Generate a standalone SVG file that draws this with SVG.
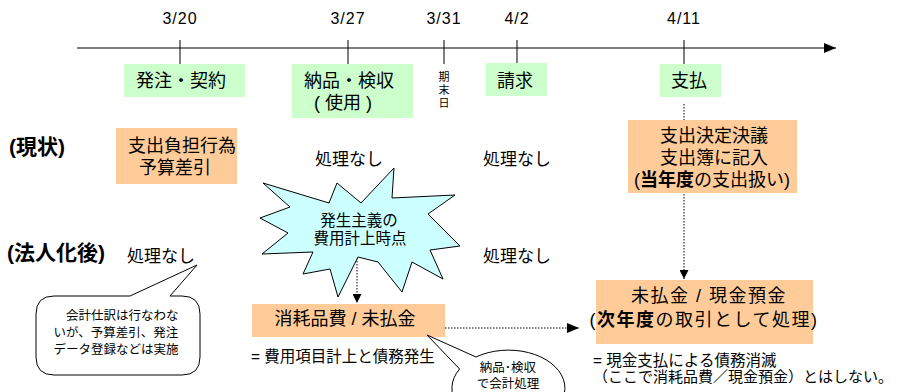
<svg xmlns="http://www.w3.org/2000/svg" width="901" height="392" viewBox="0 0 901 392">
<defs>
<style>
text{font-family:"Liberation Sans","Noto Sans CJK JP",sans-serif;fill:#000}
.date{font-size:16px;text-anchor:middle;letter-spacing:1px}
.lbl{font-size:18px;text-anchor:middle}
.nn{font-size:17px;text-anchor:middle}
.hdr{font-size:21px;font-weight:bold}
.sm{font-size:12.5px}
.vt{font-size:11px;text-anchor:middle}
.note{font-size:15.5px}
.green{fill:#ccffcc}
.orange{fill:#ffcc99}
.ln{stroke:#000;stroke-width:1;fill:none}
.dot{stroke:#000;stroke-width:1;fill:none;stroke-dasharray:1.5 1.5}
.shape{stroke:#000;stroke-width:1}
</style>
<marker id="ah" viewBox="0 0 10 10" refX="10" refY="5" markerWidth="10" markerHeight="9" markerUnits="userSpaceOnUse" orient="auto">
<path d="M0,0 L10,5 L0,10 Z" fill="#000"/>
</marker>
<marker id="ahL" viewBox="0 0 12 10" refX="12" refY="5" markerWidth="12" markerHeight="10" markerUnits="userSpaceOnUse" orient="auto">
<path d="M0,0 L12,5 L0,10 Z" fill="#000"/>
</marker>
</defs>
<rect width="901" height="392" fill="#fff"/>

<g id="timeline">
<line class="ln" x1="77" y1="48" x2="836" y2="48" marker-end="url(#ahL)"/>
<line class="ln" x1="180" y1="40" x2="180" y2="64"/>
<line class="ln" x1="348" y1="40" x2="348" y2="64"/>
<line class="ln" x1="444" y1="40" x2="444" y2="64"/>
<line class="ln" x1="517" y1="40" x2="517" y2="64"/>
<line class="ln" x1="684" y1="40" x2="684" y2="64"/>
<text class="date" x="180" y="24">3/20</text>
<text class="date" x="348" y="24">3/27</text>
<text class="date" x="444" y="24">3/31</text>
<text class="date" x="517" y="24">4/2</text>
<text class="date" x="684" y="24">4/11</text>
</g>

<g id="connectors">
<line class="dot" x1="684" y1="104" x2="684" y2="279" marker-end="url(#ah)"/>
<line class="dot" x1="357" y1="258" x2="357" y2="303" marker-end="url(#ah)"/>
<line class="dot" x1="445" y1="328" x2="579" y2="328" marker-end="url(#ahL)"/>
</g>

<g id="kimatsu">
<text class="vt" x="444" y="81">期</text>
<text class="vt" x="444" y="94">末</text>
<text class="vt" x="444" y="107">日</text>
</g>

<g id="hatchu">
<rect class="green" x="124" y="64" width="121" height="33"/>
<text class="lbl" x="181" y="87">発注・契約</text>
</g>
<g id="nohin">
<rect class="green" x="292" y="64" width="121" height="54"/>
<text class="lbl" x="349" y="87">納品・検収</text>
<text class="lbl" x="343" y="109">( 使用 )</text>
</g>
<g id="seikyu">
<rect class="green" x="486" y="63" width="61" height="33"/>
<text class="lbl" x="515" y="87">請求</text>
</g>
<g id="shiharai">
<rect class="green" x="660" y="64" width="61" height="33"/>
<text class="lbl" x="689" y="87">支払</text>
</g>

<g id="hdr-genjo">
<text class="hdr" x="9" y="154">(現状)</text>
</g>
<g id="hdr-hojin">
<text class="hdr" x="7" y="260">(法人化後)</text>
</g>

<g id="yosan">
<rect class="orange" x="116" y="128" width="121" height="56"/>
<text class="lbl" x="182" y="152">支出負担行為</text>
<text class="lbl" x="175" y="174">予算差引</text>
</g>

<g id="shori-1">
<text class="nn" x="349" y="165">処理なし</text>
</g>
<g id="shori-2">
<text class="nn" x="517" y="165">処理なし</text>
</g>
<g id="shori-3">
<text class="nn" x="161" y="262">処理なし</text>
</g>
<g id="shori-4">
<text class="nn" x="517" y="262">処理なし</text>
</g>

<g id="shishutsu">
<rect class="orange" x="628" y="120" width="169" height="73"/>
<text class="lbl" x="714" y="142">支出決定決議</text>
<text class="lbl" x="714" y="164">支出簿に記入</text>
<text class="lbl" x="712" y="186">(<tspan font-weight="bold">当年度</tspan>の支出扱い)</text>
</g>

<g id="starburst">
<polygon class="shape" fill="#ccffff" points="263,183 329,203 337,183 361,203 394,168 392,198 455,195 428,214 460,246 430,250 443,279 412,262 402,292 378,262 358,257 338,297 330,269 303,274 313,252 262,254 288,233 260,218 290,207"/>
<text x="359" y="226" text-anchor="middle" style="font-size:15.5px">発生主義の</text>
<text x="360" y="244" text-anchor="middle" style="font-size:15.5px">費用計上時点</text>
</g>

<g id="callout-left">
<path class="shape" fill="#fff" d="M54,296 L130,296 L197,265 L170,296 L182,296 Q200,296 200,314 L200,357 Q200,375 182,375 L54,375 Q36,375 36,357 L36,314 Q36,296 54,296 Z"/>
<text class="sm" x="66" y="320">会計仕訳は行なわな</text>
<text class="sm" x="116" y="337" text-anchor="middle">いが、予算差引、発注</text>
<text class="sm" x="116" y="354" text-anchor="middle">データ登録などは実施</text>
</g>

<g id="shomohin">
<rect class="orange" x="252" y="304" width="193" height="33"/>
<text class="lbl" x="345" y="325">消耗品費 / 未払金</text>
<text class="note" x="251" y="362">= 費用項目計上と債務発生</text>
</g>

<g id="callout-ellipse">
<path class="shape" fill="#fff" d="M476,357 L427,335 L459.6,369 A56.5 38 0 1 0 476,357 Z"/>
<text class="sm" x="508" y="372" text-anchor="middle">納品･検収</text>
<text class="sm" x="508" y="388" text-anchor="middle">で会計処理</text>
</g>

<g id="miharai">
<rect class="orange" x="596" y="280" width="217" height="64"/>
<text class="lbl" x="709" y="302" style="letter-spacing:1.5px">未払金 / 現金預金</text>
<text class="lbl" x="704" y="326" style="letter-spacing:1.5px">(<tspan font-weight="bold">次年度</tspan>の取引として処理)</text>
<text class="note" x="593" y="366">= 現金支払による債務消滅</text>
<text x="593" y="382" style="font-size:15px">（ここで消耗品費／現金預金）とはしない。</text>
</g>
</svg>
